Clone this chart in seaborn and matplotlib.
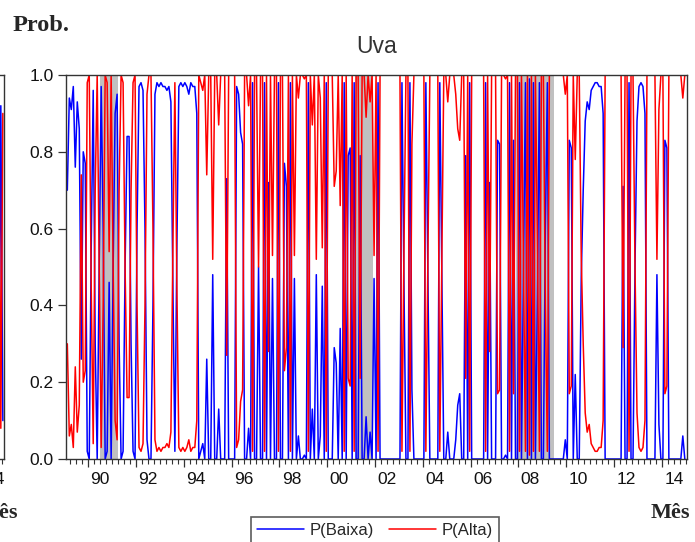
import numpy as np
import pandas as pd
import matplotlib.pyplot as plt
import seaborn as sns
from matplotlib.ticker import MultipleLocator
from matplotlib.transforms import ScaledTranslation

# probabilidade do regime "Baixa" (mensal, fev/1989 - dez/2014); P(Alta) = 1 - P(Baixa)
baixa_1989 = [0.70, 0.94, 0.91, 0.97, 0.76, 0.93, 0.86, 0.26, 0.80, 0.77, 0.02]
baixa_1990 = [0.00, 0.55, 0.96, 0.30, 0.00, 0.50, 0.97, 0.60, 0.00, 0.02, 0.46, 0.00]
baixa_1991 = [0.50, 0.90, 0.95, 0.30, 0.00, 0.02, 0.50, 0.84, 0.84, 0.30, 0.02, 0.00]
baixa_1992 = [0.60, 0.97, 0.98, 0.96, 0.60, 0.05, 0.00, 0.00, 0.40, 0.95, 0.98, 0.97]
baixa_1993 = [0.98, 0.97, 0.97, 0.96, 0.97, 0.93, 0.45, 0.02, 0.55, 0.97, 0.98, 0.97]
baixa_1994 = [0.98, 0.97, 0.95, 0.98, 0.97, 0.97, 0.90, 0.00, 0.02, 0.04, 0.00, 0.26]
baixa_1995 = [0.00, 0.00, 0.48, 0.00, 0.00, 0.13, 0.00, 0.00, 0.00, 0.73, 0.00, 0.00]
baixa_1996 = [0.00, 0.00, 0.97, 0.95, 0.85, 0.82, 0.00, 0.00, 0.08, 0.00, 0.98, 0.00]
baixa_1997 = [0.00, 0.50, 0.00, 0.00, 0.98, 0.00, 0.72, 0.00, 0.47, 0.00, 0.00, 0.98]
baixa_1998 = [0.00, 0.00, 0.77, 0.71, 0.00, 0.98, 0.00, 0.47, 0.00, 0.06, 0.00, 0.00]
baixa_1999 = [0.01, 0.00, 0.98, 0.00, 0.13, 0.00, 0.48, 0.00, 0.06, 0.45, 0.00, 0.98]
baixa_2000 = [0.00, 0.00, 0.00, 0.29, 0.25, 0.00, 0.34, 0.00, 0.98, 0.00, 0.79, 0.81]
baixa_2001 = [0.00, 0.98, 0.00, 0.00, 0.79, 0.00, 0.00, 0.11, 0.00, 0.07, 0.00, 0.47]
baixa_2002 = [0.00, 0.98, 0.00, 0.00, 0.00, 0.00, 0.00, 0.00, 0.00, 0.00, 0.00, 0.00]
baixa_2003 = [0.00, 0.98, 0.46, 0.00, 0.00, 0.98, 0.18, 0.00, 0.00, 0.00, 0.00, 0.00]
baixa_2004 = [0.00, 0.98, 0.49, 0.00, 0.00, 0.00, 0.00, 0.00, 0.98, 0.49, 0.00, 0.00]
baixa_2005 = [0.07, 0.00, 0.00, 0.00, 0.05, 0.14, 0.17, 0.00, 0.00, 0.79, 0.00, 0.98]
baixa_2006 = [0.00, 0.00, 0.00, 0.00, 0.00, 0.00, 0.00, 0.98, 0.00, 0.72, 0.00, 0.00]
baixa_2007 = [0.00, 0.83, 0.82, 0.00, 0.00, 0.01, 0.00, 0.98, 0.00, 0.83, 0.00, 0.00]
baixa_2008 = [0.98, 0.00, 0.50, 0.98, 0.00, 0.99, 0.00, 0.98, 0.00, 0.43, 0.98, 0.00]
baixa_2009 = [0.00, 0.60, 0.98, 0.00, 0.00, 0.00, 0.00, 0.00, 0.00, 0.00, 0.00, 0.05]
baixa_2010 = [0.00, 0.83, 0.81, 0.00, 0.22, 0.00, 0.00, 0.47, 0.70, 0.88, 0.93, 0.91]
baixa_2011 = [0.96, 0.97, 0.98, 0.98, 0.97, 0.97, 0.90, 0.00, 0.00, 0.00, 0.00, 0.00]
baixa_2012 = [0.00, 0.00, 0.00, 0.00, 0.71, 0.00, 0.00, 0.98, 0.00, 0.00, 0.50, 0.88]
baixa_2013 = [0.97, 0.98, 0.97, 0.90, 0.00, 0.00, 0.00, 0.00, 0.00, 0.48, 0.09, 0.00]
baixa_2014 = [0.00, 0.83, 0.81, 0.00, 0.00, 0.00, 0.00, 0.00, 0.00, 0.00, 0.06, 0.00]

# fim da série do gráfico vizinho (à esquerda, cortado)
vizinho_baixa = [0.05, 0.92, 0.10]

# recessões (sombreado)
recessoes = [('1990-07', '1991-03'), ('2001-03', '2001-11'), ('2007-12', '2009-06')]

anos_ticks = list(range(1990, 2015, 2))
rotulos_ticks = ['%02d' % (a % 100) for a in anos_ticks]
y_ticks = [0.0, 0.2, 0.4, 0.6, 0.8, 1.0]


def decimal(d):
    d = pd.to_datetime(d)
    return d.year + (d.month - 0.5) / 12


baixa = (baixa_1989 + baixa_1990 + baixa_1991 + baixa_1992 + baixa_1993 +
         baixa_1994 + baixa_1995 + baixa_1996 + baixa_1997 + baixa_1998 +
         baixa_1999 + baixa_2000 + baixa_2001 + baixa_2002 + baixa_2003 +
         baixa_2004 + baixa_2005 + baixa_2006 + baixa_2007 + baixa_2008 +
         baixa_2009 + baixa_2010 + baixa_2011 + baixa_2012 + baixa_2013 +
         baixa_2014)
datas = pd.date_range('1989-02-01', periods=len(baixa), freq='MS')
df = pd.DataFrame({'t': datas.year + (datas.month - 0.5) / 12,
                   'P(Baixa)': baixa})
df['P(Alta)'] = 1 - df['P(Baixa)']

dv = pd.DataFrame({'t': [2014.625, 2014.708, 2014.792], 'P(Baixa)': vizinho_baixa})
dv['P(Alta)'] = 1 - dv['P(Baixa)']

sns.set_style('white')
plt.rcParams['font.family'] = ['Liberation Sans', 'DejaVu Sans']

fig = plt.figure(figsize=(6.95, 5.42), dpi=100)
W, H = 695, 542
ax = fig.add_axes([66 / W, 1 - 459 / H, 621 / W, 384 / H])
axv = fig.add_axes([(4 - 621) / W, 1 - 459 / H, 621 / W, 384 / H])


def estilo(a, xmax, rotulos_x, rotulos_y):
    for r0, r1 in recessoes:
        a.axvspan(decimal(r0) - 1 / 24, decimal(r1) + 1 / 24, color='#c0c0c0', lw=0, zorder=0)
    a.set_xlim(1989.07, xmax)
    a.set_ylim(0, 1)
    a.set_xticks(anos_ticks)
    a.set_xticklabels(rotulos_x)
    a.xaxis.set_minor_locator(MultipleLocator(0.25))
    a.set_yticks(y_ticks)
    a.set_yticklabels(rotulos_y)
    a.tick_params(axis='both', which='major', direction='out', length=6, width=0.9,
                  color='#333333', labelsize=12.5, labelcolor='#111111', pad=3)
    a.tick_params(axis='x', which='minor', direction='out', length=3.5, width=0.8,
                  color='#333333', bottom=True)
    a.tick_params(axis='both', bottom=True, left=True)
    for lab in a.get_xticklabels():
        lab.set_transform(lab.get_transform() + ScaledTranslation(0.12, 0, fig.dpi_scale_trans))
    for s in a.spines.values():
        s.set_color('#333333')
        s.set_linewidth(1.0)
    a.set_xlabel('')
    a.set_ylabel('')


sns.lineplot(data=df, x='t', y='P(Baixa)', ax=ax, color='#0000ff', lw=1.1, label='P(Baixa)')
sns.lineplot(data=df, x='t', y='P(Alta)', ax=ax, color='#ff0000', lw=1.1, label='P(Alta)')
estilo(ax, 2015.05, rotulos_ticks, ['%.1f' % v for v in y_ticks])
ax.set_title('Uva', fontsize=16.5, color='#333333', pad=16)

sns.lineplot(data=dv, x='t', y='P(Baixa)', ax=axv, color='#0000ff', lw=1.1, legend=False)
sns.lineplot(data=dv, x='t', y='P(Alta)', ax=axv, color='#ff0000', lw=1.1, legend=False)
# só o último rótulo do gráfico vizinho fica (parcialmente) à vista
estilo(axv, 2014.84, [''] * (len(anos_ticks) - 1) + [rotulos_ticks[-1]], [''] * len(y_ticks))

handles, labels = ax.get_legend_handles_labels()
ax.get_legend().remove()
leg = fig.legend(handles, labels, loc='upper center', bbox_to_anchor=(375 / W, 1 - 509 / H),
                 ncol=2, fontsize=12, frameon=True, fancybox=False, edgecolor='#333333',
                 handlelength=2.8, columnspacing=0.9, borderpad=0.35, handletextpad=0.35)
leg.get_frame().set_linewidth(1.2)

serif = ['Liberation Serif', 'DejaVu Serif']
fig.text(13 / W, 1 - 31 / H, 'Prob.', family=serif, weight='bold', fontsize=17.5)
fig.text(690 / W, 1 - 518 / H, 'Mês', family=serif, weight='bold', fontsize=16, ha='right')
fig.text(18 / W, 1 - 518 / H, 'Mês', family=serif, weight='bold', fontsize=16, ha='right')

fig.savefig('out.png', dpi=100)
